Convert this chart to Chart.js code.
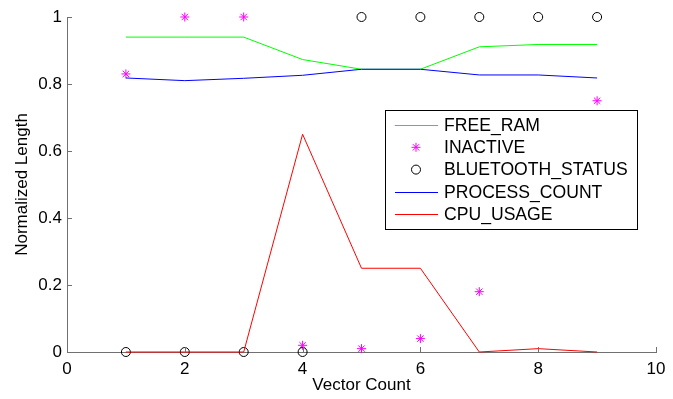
<!DOCTYPE html>
<html>
<head>
<meta charset="utf-8">
<script src="https://cdn.jsdelivr.net/npm/chart.js@4.4.0/dist/chart.umd.min.js"></script>
<style>
  html, body { margin: 0; padding: 0; background: #fff; }
  #wrap { width: 673px; height: 399px; position: relative; }
</style>
</head>
<body>
<div id="wrap"><canvas id="chart"></canvas></div>
<script>
"use strict";

// data
const vectorCount     = [1, 2, 3, 4, 5, 6, 7, 8, 9];
const freeRam         = [0.94, 0.94, 0.94, 0.873, 0.844, 0.844, 0.911, 0.918, 0.918];
const inactive        = [0.83, 1, 1, 0.02, 0.01, 0.04, 0.18, null, 0.75];
const bluetoothStatus = [0, 0, 0, 0, 1, 1, 1, 1, 1];
const processCount    = [0.818, 0.810, 0.817, 0.826, 0.844, 0.844, 0.827, 0.827, 0.818];
const cpuUsage        = [0, 0, 0, 0.65, 0.25, 0.25, 0, 0.01, 0];

const xTicks = [0, 2, 4, 6, 8, 10];
const yTicks = [0, 0.2, 0.4, 0.6, 0.8, 1];

const FONT = "'Liberation Sans', Arial, sans-serif";
const AXIS_COLOR = "#707070";

const pts = arr => vectorCount.map((x, i) => ({ x: x, y: arr[i] }));

const series = [
    { label: "FREE_RAM",         data: freeRam,         color: "#00ff00", kind: "line" },
    { label: "INACTIVE",         data: inactive,        color: "#ff00ff", kind: "star" },
    { label: "BLUETOOTH_STATUS", data: bluetoothStatus, color: "#000000", kind: "circle" },
    { label: "PROCESS_COUNT",    data: processCount,    color: "#0000ff", kind: "line" },
    { label: "CPU_USAGE",        data: cpuUsage,        color: "#ff0000", kind: "line" }
];

// inward tick marks, like the original plot
const innerTicks = {
    id: "innerTicks",
    afterDatasetsDraw(chart) {
        const { ctx, chartArea: a, scales: { x, y } } = chart;
        ctx.save();
        ctx.strokeStyle = AXIS_COLOR;
        ctx.lineWidth = 1;
        ctx.beginPath();
        xTicks.forEach(v => {
            const px = Math.round(x.getPixelForValue(v)) + 0.5;
            ctx.moveTo(px, a.bottom);
            ctx.lineTo(px, a.bottom - 5);
        });
        yTicks.forEach(v => {
            const py = Math.round(y.getPixelForValue(v)) + 0.5;
            ctx.moveTo(a.left, py);
            ctx.lineTo(a.left + 5, py);
        });
        ctx.stroke();
        ctx.restore();
    }
};

// legend box inside the plot
const boxLegend = {
    id: "boxLegend",
    afterDraw(chart) {
        const ctx = chart.ctx;
        const bx = 385.5, by = 110.5, bw = 252, bh = 119;
        ctx.save();
        ctx.fillStyle = "#fff";
        ctx.fillRect(bx, by, bw, bh);
        ctx.strokeStyle = "#000";
        ctx.lineWidth = 1;
        ctx.strokeRect(bx, by, bw, bh);

        ctx.font = "17.6px " + FONT;
        ctx.textBaseline = "middle";
        ctx.textAlign = "left";
        series.forEach((s, i) => {
            const ry = 125 + i * 22.3;
            if (s.kind === "line") {
                ctx.strokeStyle = s.color;
                ctx.lineWidth = 1;
                ctx.beginPath();
                ctx.moveTo(395, Math.round(ry) + 0.5);
                ctx.lineTo(438, Math.round(ry) + 0.5);
                ctx.stroke();
            } else {
                ctx.strokeStyle = s.color;
                ctx.fillStyle = "rgba(0,0,0,0)";
                ctx.lineWidth = 1;
                Chart.helpers.drawPoint(ctx, {
                    pointStyle: s.kind === "star" ? "star" : "circle",
                    radius: 4.5,
                    rotation: 0,
                    borderWidth: 1
                }, 416, ry);
            }
            ctx.fillStyle = "#000";
            ctx.fillText(s.label, 444, ry + 1);
        });
        ctx.restore();
    }
};

const datasets = series.map((s, i) => {
    const base = {
        label: s.label,
        data: pts(s.data),
        borderColor: s.color,
        backgroundColor: s.color,
        clip: false,
        order: series.length - i
    };
    if (s.kind === "line") {
        return Object.assign(base, {
            showLine: true,
            borderWidth: 1,
            pointRadius: 0,
            pointHoverRadius: 0,
            tension: 0
        });
    }
    return Object.assign(base, {
        showLine: false,
        pointStyle: s.kind === "star" ? "star" : "circle",
        pointRadius: 4.5,
        pointHoverRadius: 4.5,
        pointBorderWidth: 1,
        pointBackgroundColor: "rgba(0,0,0,0)",
        pointBorderColor: s.color
    });
});

new Chart(document.getElementById("chart"), {
    type: "line",
    data: { datasets: datasets },
    plugins: [innerTicks, boxLegend],
    options: {
        responsive: true,
        maintainAspectRatio: false,
        animation: false,
        events: [],
        layout: { padding: { top: 17, right: 17, left: 0, bottom: 0 } },
        plugins: { legend: { display: false }, tooltip: { enabled: false } },
        scales: {
            x: {
                type: "linear",
                min: 0, max: 10,
                afterFit: s => { s.height = 47; },
                afterBuildTicks: s => { s.ticks = xTicks.map(v => ({ value: v })); },
                grid: { display: false, drawTicks: false },
                border: { display: true, color: AXIS_COLOR, width: 1 },
                ticks: { color: "#000", padding: 7, maxRotation: 0, font: { family: FONT, size: 17 } },
                title: { display: true, text: "Vector Count", color: "#000",
                         font: { family: FONT, size: 17 }, padding: { top: 0, bottom: 3 } }
            },
            y: {
                type: "linear",
                min: 0, max: 1,
                afterFit: s => { s.width = 67; },
                afterBuildTicks: s => { s.ticks = yTicks.map(v => ({ value: v })); },
                grid: { display: false, drawTicks: false },
                border: { display: true, color: AXIS_COLOR, width: 1 },
                ticks: { color: "#000", padding: 5, font: { family: FONT, size: 17 },
                         callback: v => String(v) },
                title: { display: true, text: "Normalized Length", color: "#000",
                         font: { family: FONT, size: 17 }, padding: { top: 12, bottom: 0 } }
            }
        }
    }
});
</script>
</body>
</html>
